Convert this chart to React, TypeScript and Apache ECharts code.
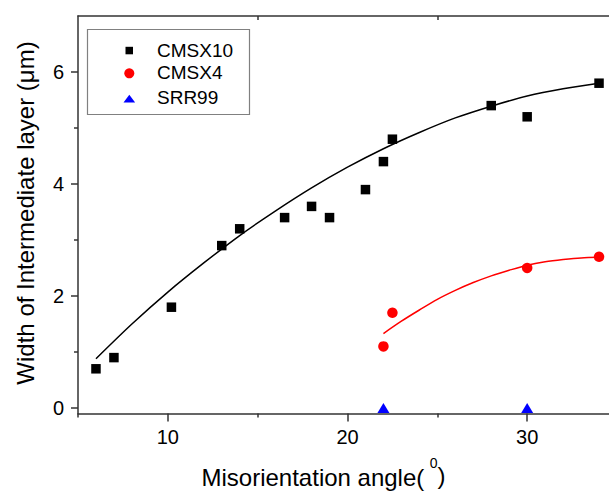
import React, { useEffect, useRef } from 'react';
import * as echarts from 'echarts';

const FONT = '"Liberation Sans", Arial, sans-serif';

// Measured data
const xCMSX10 = [6, 7, 10.2, 13, 14, 16.5, 18, 19, 21, 22, 22.5, 28, 30, 34];
const yCMSX10 = [0.7, 0.9, 1.8, 2.9, 3.2, 3.4, 3.6, 3.4, 3.9, 4.4, 4.8, 5.4, 5.2, 5.8];
const xCMSX4 = [22, 22.5, 30, 34];
const yCMSX4 = [1.1, 1.7, 2.5, 2.7];
const xSRR99 = [22, 30];
const ySRR99 = [0, 0];

// Fit curves
const fit10X = [6, 8, 10, 12, 14, 16, 18, 20, 22, 24, 26, 28, 30, 32, 34];
const fit10Y = [0.88, 1.5, 2.07, 2.59, 3.08, 3.52, 3.93, 4.3, 4.63, 4.92, 5.18, 5.39, 5.57, 5.7, 5.8];
const fit4X = [22, 23, 24, 25, 26, 27, 28, 29, 30, 31, 32, 33, 34];
const fit4Y = [1.33, 1.55, 1.75, 1.94, 2.1, 2.24, 2.36, 2.46, 2.55, 2.61, 2.65, 2.68, 2.69];

const xMajor = [10, 20, 30];
const xMinor = [5, 15, 25, 35];
const xTopMinor = [15, 25];
const yMajor = [0, 2, 4, 6];
const yMinor = [1, 3, 5];

const legendNames = ['CMSX10', 'CMSX4', 'SRR99'];

const zip = (xs: number[], ys: number[]) => xs.map((x, i) => [x, ys[i]]);

const txt = (size: number) => ({ fontSize: size, fontFamily: FONT, fill: '#000' });

export default function App() {
  const ref = useRef<HTMLDivElement>(null);
  useEffect(() => {
    const chart = echarts.init(ref.current!, null, { renderer: 'svg' });
    const lineStyle = { color: '#333', width: 1.5 };
    const option: any = {
      animation: false,
      backgroundColor: '#fff',
      textStyle: { fontFamily: FONT },
      grid: { left: 78, top: 16, width: 539, height: 397.6, containLabel: false },
      xAxis: [
        {
          type: 'value', min: 5, max: 35, position: 'bottom',
          axisLine: { show: true, onZero: false, lineStyle },
          axisTick: { show: true, inside: false, length: 8, customValues: xMajor, lineStyle },
          axisLabel: { show: true, customValues: xMajor, fontSize: 20, color: '#000', margin: 13, fontFamily: FONT },
          splitLine: { show: false },
        },
        {
          type: 'value', min: 5, max: 35, position: 'bottom',
          axisLine: { show: false, onZero: false },
          axisTick: { show: true, inside: false, length: 4, customValues: xMinor, lineStyle },
          axisLabel: { show: false },
          splitLine: { show: false },
        },
        {
          type: 'value', min: 5, max: 35, position: 'top',
          axisLine: { show: true, onZero: false, lineStyle },
          axisTick: { show: true, inside: true, length: 4, customValues: xTopMinor, lineStyle },
          axisLabel: { show: false },
          splitLine: { show: false },
        },
      ],
      yAxis: [
        {
          type: 'value', min: -0.1, max: 7, position: 'left',
          axisLine: { show: true, onZero: false, lineStyle },
          axisTick: { show: true, inside: false, length: 7, customValues: yMajor, lineStyle },
          axisLabel: { show: true, customValues: yMajor, fontSize: 20, color: '#000', margin: 14, fontFamily: FONT },
          splitLine: { show: false },
        },
        {
          type: 'value', min: -0.1, max: 7, position: 'left',
          axisLine: { show: false, onZero: false },
          axisTick: { show: true, inside: false, length: 4, customValues: yMinor, lineStyle },
          axisLabel: { show: false },
          splitLine: { show: false },
        },
      ],
      series: [
        {
          type: 'line', name: 'fit CMSX10', data: zip(fit10X, fit10Y), smooth: 0.3, symbol: 'none',
          lineStyle: { color: '#000', width: 1.5 }, xAxisIndex: 0, yAxisIndex: 0, z: 2,
        },
        {
          type: 'line', name: 'fit CMSX4', data: zip(fit4X, fit4Y), smooth: 0.3, symbol: 'none',
          lineStyle: { color: '#ff0000', width: 1.5 }, xAxisIndex: 0, yAxisIndex: 0, z: 2,
        },
        {
          type: 'scatter', name: legendNames[0], data: zip(xCMSX10, yCMSX10), symbol: 'rect', symbolSize: 9.5,
          itemStyle: { color: '#000', opacity: 1 }, xAxisIndex: 0, yAxisIndex: 0, z: 3,
        },
        {
          type: 'scatter', name: legendNames[1], data: zip(xCMSX4, yCMSX4), symbol: 'circle', symbolSize: 10.5,
          itemStyle: { color: '#ff0000', opacity: 1 }, xAxisIndex: 0, yAxisIndex: 0, z: 3,
        },
        {
          type: 'scatter', name: legendNames[2], data: zip(xSRR99, ySRR99), symbol: 'triangle', symbolSize: [12, 10],
          itemStyle: { color: '#0000ff', opacity: 1 }, xAxisIndex: 0, yAxisIndex: 0, z: 3,
        },
      ],
      graphic: [
        {
          type: 'rect', z: 100, shape: { x: 87.5, y: 29.5, width: 162, height: 85 },
          style: { fill: '#fff', stroke: '#808080', lineWidth: 1.2 },
        },
        { type: 'rect', z: 101, shape: { x: 125.5, y: 46.8, width: 7.5, height: 7.5 }, style: { fill: '#000' } },
        { type: 'circle', z: 101, shape: { cx: 129.3, cy: 73.3, r: 5 }, style: { fill: '#ff0000' } },
        {
          type: 'polygon', z: 101,
          shape: { points: [[123.5, 102.6], [135.1, 102.6], [129.3, 94.8]] },
          style: { fill: '#0000ff' },
        },
        { type: 'text', z: 101, x: 157, y: 50, style: { text: legendNames[0], ...txt(19), align: 'left', verticalAlign: 'middle' } },
        { type: 'text', z: 101, x: 157, y: 72.8, style: { text: legendNames[1], ...txt(19), align: 'left', verticalAlign: 'middle' } },
        { type: 'text', z: 101, x: 157, y: 97.2, style: { text: legendNames[2], ...txt(19), align: 'left', verticalAlign: 'middle' } },
        {
          type: 'text', z: 101, x: 25, y: 213, rotation: Math.PI / 2,
          style: { text: 'Width of Intermediate layer (μm)', ...txt(24), align: 'center', verticalAlign: 'middle' },
        },
        {
          type: 'text', z: 101, x: 201.5, y: 477,
          style: { text: 'Misorientation angle(', ...txt(24), align: 'left', verticalAlign: 'middle' },
        },
        {
          type: 'text', z: 101, x: 433.7, y: 463,
          style: { text: '0', ...txt(14), align: 'center', verticalAlign: 'middle' },
        },
        {
          type: 'text', z: 101, x: 437.5, y: 475,
          style: { text: ')', ...txt(24), align: 'left', verticalAlign: 'middle' },
        },
      ],
    };
    chart.setOption(option);
    return () => chart.dispose();
  }, []);
  return (
    <div style={{ position: 'absolute', left: 0, top: 0, width: 609, height: 492, overflow: 'hidden', background: '#fff' }}>
      <div ref={ref} style={{ width: 620, height: 492 }} />
    </div>
  );
}
